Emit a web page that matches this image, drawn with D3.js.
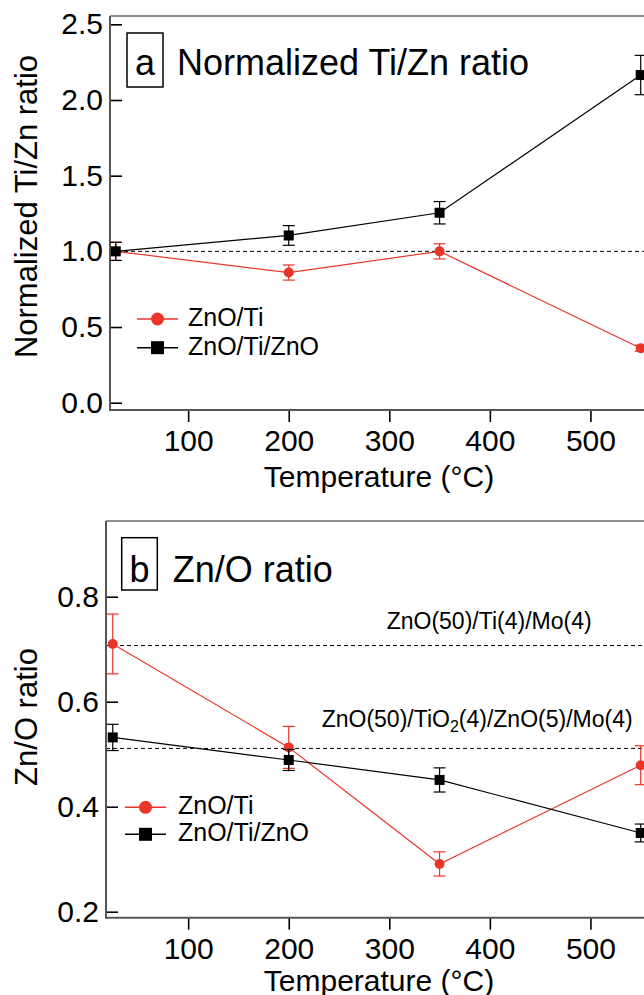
<!DOCTYPE html>
<html>
<head>
<meta charset="utf-8">
<script src="https://cdn.jsdelivr.net/npm/d3@7"></script>
<style>
  body { margin: 0; background: #fff; }
  svg { display: block; font-family: "Liberation Sans", Arial, Helvetica, sans-serif; }
</style>
</head>
<body>
<svg id="chart" width="644" height="995"></svg>
<script>
// ---------------- DATA ----------------
const xTicks = [100, 200, 300, 400, 500];

// Panel a: Normalized Ti/Zn ratio
const tempsA = [28, 200, 350, 550];
const aZnOTi      = [1.00, 0.86, 1.00, 0.36];
const aZnOTiErr   = [0.06, 0.05, 0.05, 0.02];
const aZnOTiZnO   = [1.00, 1.105, 1.255, 2.165];
const aZnOTiZnOErr= [0.06, 0.065, 0.074, 0.13];
const aYTicks = [0.0, 0.5, 1.0, 1.5, 2.0, 2.5];
const aRefLine = 1.0;

// Panel b: Zn/O ratio
const tempsB = [25, 200, 350, 550];
const bZnOTi      = [0.710, 0.513, 0.291, 0.479];
const bZnOTiErr   = [0.057, 0.040, 0.023, 0.037];
const bZnOTiZnO   = [0.532, 0.489, 0.451, 0.350];
const bZnOTiZnOErr= [0.025, 0.020, 0.023, 0.017];
const bYTicks = [0.2, 0.4, 0.6, 0.8];
const bRefValues = [0.707, 0.511];

const seriesNames = ["ZnO/Ti", "ZnO/Ti/ZnO"];
const RED = "rgb(234,53,40)";
const BLACK = "#000";

// ---------------- DRAW ----------------
const svg = d3.select("#chart");
const x = d3.scaleLinear().domain([0, 600]).range([87.6, 691]);

function panel(cfg) {
  const g = svg.append("g");
  const y = d3.scaleLinear().domain(cfg.yDomain).range([cfg.bottom, cfg.top]);
  const left = cfg.left;

  // top frame
  g.append("line").attr("x1", left).attr("x2", 660).attr("y1", cfg.top).attr("y2", cfg.top)
    .attr("stroke", "#222").attr("stroke-width", 1.2);

  // reference dashed lines
  cfg.refs.forEach(v => {
    g.append("line").attr("x1", left).attr("x2", 660).attr("y1", y(v)).attr("y2", y(v))
      .attr("stroke", "#000").attr("stroke-width", 1).attr("stroke-dasharray", "4,3");
  });

  // x axis
  const xa = g.append("g").attr("transform", `translate(0,${cfg.bottom})`)
    .call(d3.axisBottom(x).tickValues(xTicks).tickSize(12).tickPadding(8).tickFormat(d3.format("d")));
  xa.select(".domain").remove();
  xa.selectAll(".tick line").attr("stroke", "#000").attr("stroke-width", 1.6);
  xa.selectAll(".tick text").attr("font-size", 30).attr("fill", "#000")
    .attr("font-family", "Liberation Sans, Arial, sans-serif");
  g.append("line").attr("x1", left).attr("x2", 660).attr("y1", cfg.bottom).attr("y2", cfg.bottom)
    .attr("stroke", "#555").attr("stroke-width", 2);

  // y axis
  const ya = g.append("g").attr("transform", `translate(${left},0)`)
    .call(d3.axisLeft(y).tickValues(cfg.yTicks).tickSize(-12).tickPadding(7).tickFormat(d3.format(".1f")));
  ya.select(".domain").remove();
  ya.selectAll(".tick line").attr("stroke", "#000").attr("stroke-width", 1.6);
  ya.selectAll(".tick text").attr("font-size", 30).attr("fill", "#000")
    .attr("font-family", "Liberation Sans, Arial, sans-serif").attr("x", -7);
  g.append("line").attr("x1", left).attr("x2", left).attr("y1", cfg.top).attr("y2", cfg.bottom + 1)
    .attr("stroke", "#555").attr("stroke-width", 2);

  // series
  const series = [
    { vals: cfg.s1, err: cfg.e1, color: RED, shape: "circle", temps: cfg.temps },
    { vals: cfg.s2, err: cfg.e2, color: BLACK, shape: "square", temps: cfg.temps }
  ];
  series.forEach(s => {
    const pts = s.vals.map((v, i) => ({ t: s.temps[i], v, e: s.err[i] }));
    const sg = g.append("g");
    sg.append("path").datum(pts)
      .attr("d", d3.line().x(d => x(d.t)).y(d => y(d.v)))
      .attr("fill", "none").attr("stroke", s.color).attr("stroke-width", 1.2);
    const eb = sg.selectAll(".eb").data(pts).join("g");
    eb.append("line").attr("x1", d => x(d.t)).attr("x2", d => x(d.t))
      .attr("y1", d => y(d.v - d.e)).attr("y2", d => y(d.v + d.e))
      .attr("stroke", s.color).attr("stroke-width", 1.2);
    [-1, 1].forEach(sgn => {
      eb.append("line").attr("x1", d => x(d.t) - 6).attr("x2", d => x(d.t) + 6)
        .attr("y1", d => y(d.v + sgn * d.e)).attr("y2", d => y(d.v + sgn * d.e))
        .attr("stroke", s.color).attr("stroke-width", 1.2);
    });
    if (s.shape === "circle") {
      sg.selectAll(".mk").data(pts).join("circle")
        .attr("cx", d => x(d.t)).attr("cy", d => y(d.v)).attr("r", 5).attr("fill", s.color);
    } else {
      sg.selectAll(".mk").data(pts).join("rect")
        .attr("x", d => x(d.t) - 5).attr("y", d => y(d.v) - 5)
        .attr("width", 10).attr("height", 10).attr("fill", s.color);
    }
  });

  // legend
  const lg = g.append("g");
  [RED, BLACK].forEach((c, i) => {
    const ly = cfg.legY[i];
    lg.append("line").attr("x1", cfg.legX0).attr("x2", cfg.legX1).attr("y1", ly).attr("y2", ly)
      .attr("stroke", c).attr("stroke-width", 1.6);
    const cx = (cfg.legX0 + cfg.legX1) / 2;
    if (i === 0) lg.append("circle").attr("cx", cx).attr("cy", ly).attr("r", 6.5).attr("fill", c);
    else lg.append("rect").attr("x", cx - 6.5).attr("y", ly - 6.5).attr("width", 13).attr("height", 13).attr("fill", c);
    lg.append("text").attr("x", cfg.legTextX).attr("y", ly + 7).attr("font-size", 25)
      .attr("fill", "#000").text(seriesNames[i]);
  });

  // panel letter box + title
  g.append("rect").attr("x", cfg.box[0]).attr("y", cfg.box[1]).attr("width", cfg.box[2]).attr("height", cfg.box[3])
    .attr("fill", "none").attr("stroke", "#000").attr("stroke-width", 1.5);
  g.append("text").attr("x", cfg.box[0] + cfg.box[2] / 2).attr("y", cfg.titleY).attr("text-anchor", "middle")
    .attr("font-size", 36).attr("fill", "#000").text(cfg.letter);
  g.append("text").attr("x", cfg.titleX).attr("y", cfg.titleY).attr("font-size", 36)
    .attr("fill", "#000").text(cfg.title);

  // axis titles
  g.append("text").attr("transform", `translate(${cfg.yTitleX},${cfg.yTitleY}) rotate(-90)`)
    .attr("text-anchor", "middle").attr("font-size", 31).attr("fill", "#000").text(cfg.yTitle);
  g.append("text").attr("x", 379).attr("y", cfg.xTitleY).attr("text-anchor", "middle")
    .attr("font-size", 30).attr("fill", "#000").text("Temperature (°C)");

  return { g, y };
}

// Panel a
panel({
  top: 16, bottom: 410, left: 110,
  yDomain: [-0.0482, 2.555], yTicks: aYTicks, refs: [aRefLine],
  temps: tempsA, s1: aZnOTi, e1: aZnOTiErr, s2: aZnOTiZnO, e2: aZnOTiZnOErr,
  legX0: 137, legX1: 178, legTextX: 188, legY: [319, 347.7],
  box: [127, 33, 36, 54], letter: "a", titleX: 177, titleY: 75,
  title: "Normalized Ti/Zn ratio",
  yTitle: "Normalized Ti/Zn ratio", yTitleX: 37, yTitleY: 206.5, xTitleY: 487
});

// Panel b
const pb = panel({
  top: 521, bottom: 917.7, left: 106,
  yDomain: [0.1886, 0.9442], yTicks: bYTicks, refs: bRefValues,
  temps: tempsB, s1: bZnOTi, e1: bZnOTiErr, s2: bZnOTiZnO, e2: bZnOTiZnOErr,
  legX0: 125, legX1: 166, legTextX: 178, legY: [807.3, 834.3],
  box: [121.7, 537.7, 35.6, 52.3], letter: "b", titleX: 172.7, titleY: 582,
  title: "Zn/O ratio",
  yTitle: "Zn/O ratio", yTitleX: 37, yTitleY: 717, xTitleY: 991
});

// reference labels in panel b
pb.g.append("text").attr("x", 386.7).attr("y", 629.3).attr("font-size", 23).attr("fill", "#000")
  .text("ZnO(50)/Ti(4)/Mo(4)");
const t2 = pb.g.append("text").attr("x", 321.7).attr("y", 727.3).attr("font-size", 23).attr("fill", "#000");
t2.append("tspan").text("ZnO(50)/TiO");
t2.append("tspan").attr("font-size", 16).attr("dy", 5).text("2");
t2.append("tspan").attr("dy", -5).text("(4)/ZnO(5)/Mo(4)");
</script>
</body>
</html>
